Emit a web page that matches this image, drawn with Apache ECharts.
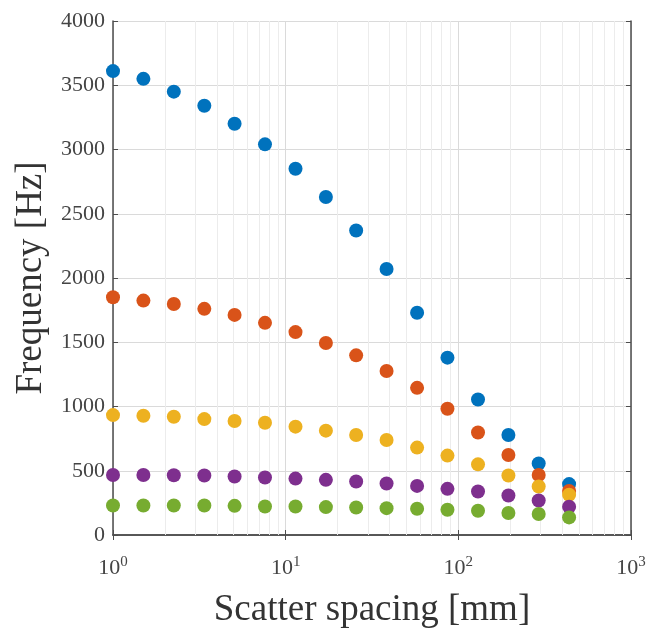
<!DOCTYPE html>
<html>
<head>
<meta charset="utf-8">
<script src="https://cdn.jsdelivr.net/npm/echarts@6/dist/echarts.min.js"></script>
<style>
  html, body { margin: 0; padding: 0; background: #fff; }
  #chart { width: 648px; height: 628px; }
</style>
</head>
<body>
<div id="chart"></div>
<script>
// scatter spacing [mm]
const spacing = [1, 1.5, 2.25, 3.38, 5.06, 7.59, 11.4, 17.1, 25.6, 38.4, 57.7, 86.5, 130, 195, 292, 438];

// frequencies [Hz], one array per mode
const mode1 = [3610, 3550, 3450, 3340, 3200, 3040, 2850, 2630, 2370, 2070, 1730, 1380, 1055, 778, 556, 396];
const mode2 = [1850, 1824, 1798, 1760, 1713, 1651, 1579, 1494, 1398, 1276, 1145, 982, 798, 622, 467, 343];
const mode3 = [933, 928, 920, 902, 887, 874, 843, 812, 778, 739, 680, 618, 550, 463, 377, 313];
const mode4 = [467, 467, 465, 463, 455, 447, 439, 429, 416, 401, 382, 359, 338, 307, 269, 220];
const mode5 = [230, 230, 230, 230, 227, 222, 222, 217, 214, 209, 204, 196, 189, 171, 163, 137];

const modes = [mode1, mode2, mode3, mode4, mode5];
const colors = ['#0072BD', '#D95319', '#EDB120', '#7E2F8E', '#77AC30'];

// minor log grid lines
const minorTicks = [2, 3, 4, 5, 6, 7, 8, 9, 20, 30, 40, 50, 60, 70, 80, 90, 200, 300, 400, 500, 600, 700, 800, 900];

const serif = '"Liberation Serif", "DejaVu Serif", serif';
const axisGray = '#4d4d4d';

function pair(ys) {
  return spacing.map((x, i) => [x, ys[i]]);
}

const series = modes.map((ys, k) => ({
  type: 'scatter',
  data: pair(ys),
  symbolSize: 14,
  itemStyle: { color: colors[k], opacity: 1 },
  z: 3 + k,
}));

// minor grid lines hang on the first series
series[0].markLine = {
  silent: true,
  symbol: 'none',
  animation: false,
  label: { show: false },
  lineStyle: { color: '#ececec', width: 1, type: 'solid' },
  data: minorTicks.map((v) => ({ xAxis: v })),
  z: 1,
};

const option = {
  animation: false,
  backgroundColor: '#fff',
  grid: { left: 113, top: 21, right: 17, bottom: 93, containLabel: false, outerBoundsMode: 'none' },
  xAxis: [
    {
      type: 'log',
      logBase: 10,
      min: 1,
      max: 1000,
      name: 'Scatter spacing [mm]',
      nameLocation: 'middle',
      nameGap: 57,
      nameTextStyle: { fontFamily: serif, fontSize: 37, color: '#333' },
      axisLine: { show: true, lineStyle: { color: axisGray, width: 1.5 } },
      axisTick: { show: true, inside: true, length: 5, lineStyle: { color: axisGray } },
      splitLine: { show: true, lineStyle: { color: '#dadada', width: 1 } },
      axisLabel: {
        margin: 20,
        fontFamily: serif,
        fontSize: 22,
        color: '#444',
        formatter: (v) => '10{s|' + Math.round(Math.log10(v)) + '}',
        rich: {
          s: { fontFamily: serif, fontSize: 15, color: '#444', verticalAlign: 'top', padding: [0, 0, 12, 0] },
        },
      },
    },
    {
      type: 'log',
      logBase: 10,
      min: 1,
      max: 1000,
      position: 'top',
      axisLine: { show: true, lineStyle: { color: axisGray, width: 1.5 } },
      axisTick: { show: true, inside: true, length: 5, lineStyle: { color: axisGray } },
      axisLabel: { show: false },
      splitLine: { show: false },
    },
  ],
  yAxis: [
    {
      type: 'value',
      min: 0,
      max: 4000,
      interval: 500,
      name: 'Frequency [Hz]',
      nameLocation: 'middle',
      nameGap: 63,
      nameTextStyle: { fontFamily: serif, fontSize: 37, color: '#333' },
      axisLine: { show: true, lineStyle: { color: axisGray, width: 1.5 } },
      axisTick: { show: true, inside: true, length: 5, lineStyle: { color: axisGray } },
      splitLine: { show: true, lineStyle: { color: '#dadada', width: 1 } },
      axisLabel: { margin: 8, fontFamily: serif, fontSize: 22, color: '#444', formatter: (v) => String(v) },
    },
    {
      type: 'value',
      min: 0,
      max: 4000,
      interval: 500,
      position: 'right',
      axisLine: { show: true, lineStyle: { color: axisGray, width: 1.5 } },
      axisTick: { show: true, inside: true, length: 5, lineStyle: { color: axisGray } },
      axisLabel: { show: false },
      splitLine: { show: false },
    },
  ],
  series,
};

const myChart = echarts.init(document.getElementById('chart'), null, { renderer: 'canvas' });
myChart.setOption(option);
</script>
</body>
</html>
